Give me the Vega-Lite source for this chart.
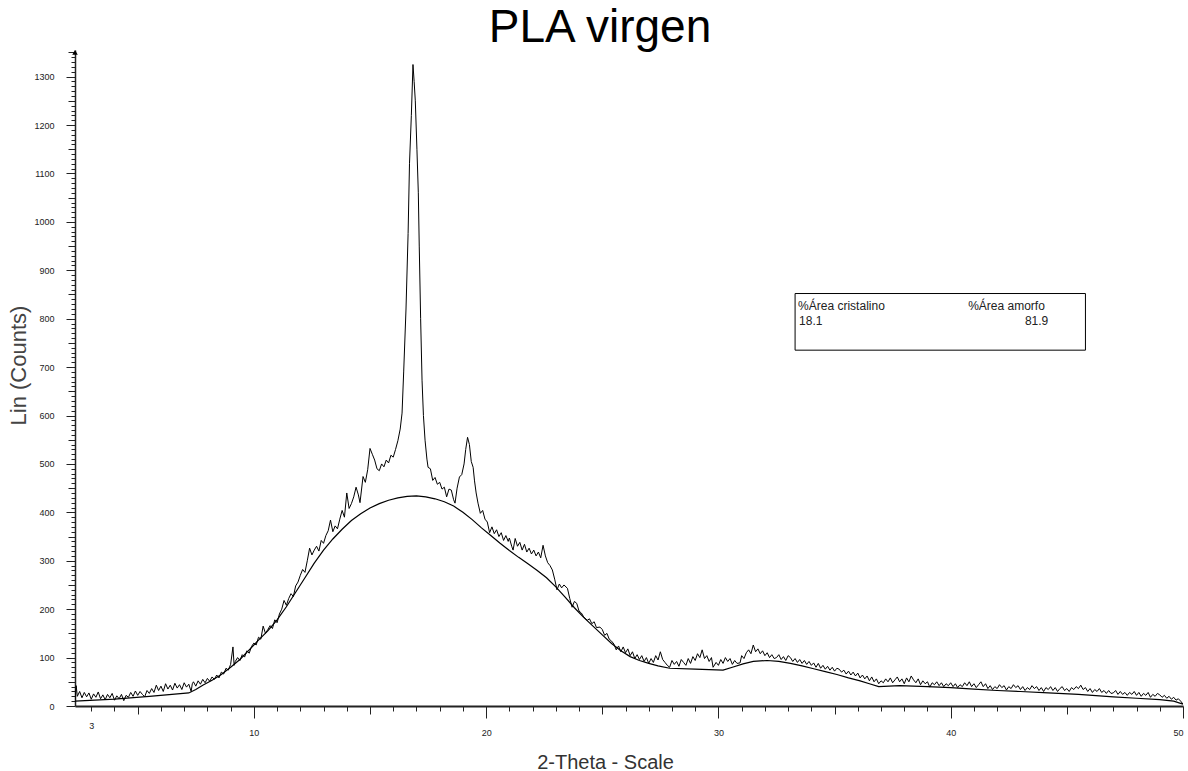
{
"$schema": "https://vega.github.io/schema/vega-lite/v6.json",
"width": 1108,
"height": 656,
"autosize": {"type": "none"},
"padding": {"left": 75, "top": 50, "right": 5, "bottom": 65},
"background": "white",
"title": {"text": "PLA virgen", "font": "Liberation Sans", "fontSize": 46, "fontWeight": "normal", "color": "#000", "anchor": "middle", "dx": -29, "offset": -4},
"config": {"view": {"stroke": null}},
"datasets": {
"scan": [
{"t":2.3,"c":12},{"t":2.35,"c":42},{"t":2.4,"c":20},{"t":2.5,"c":30},{"t":2.6,"c":17},{"t":2.7,"c":28},{"t":2.8,"c":19},{"t":2.9,"c":27},{"t":3.0,"c":14},{"t":3.1,"c":25},{"t":3.2,"c":18},{"t":3.3,"c":29},{"t":3.4,"c":15},{"t":3.5,"c":23},{"t":3.6,"c":13},{"t":3.7,"c":24},{"t":3.8,"c":17},{"t":3.9,"c":26},{"t":4.0,"c":12},{"t":4.1,"c":21},{"t":4.2,"c":15},{"t":4.3,"c":24},{"t":4.4,"c":11},{"t":4.5,"c":22},{"t":4.6,"c":18},{"t":4.7,"c":28},{"t":4.8,"c":20},{"t":4.9,"c":31},{"t":5.0,"c":22},{"t":5.1,"c":30},{"t":5.2,"c":24},{"t":5.3,"c":19},{"t":5.4,"c":32},{"t":5.5,"c":26},{"t":5.6,"c":36},{"t":5.7,"c":28},{"t":5.8,"c":43},{"t":5.9,"c":32},{"t":6.0,"c":41},{"t":6.1,"c":30},{"t":6.2,"c":46},{"t":6.3,"c":35},{"t":6.4,"c":43},{"t":6.5,"c":33},{"t":6.6,"c":47},{"t":6.7,"c":37},{"t":6.8,"c":44},{"t":6.9,"c":34},{"t":7.0,"c":48},{"t":7.1,"c":39},{"t":7.2,"c":45},{"t":7.3,"c":30},{"t":7.35,"c":46},{"t":7.4,"c":50},{"t":7.5,"c":41},{"t":7.6,"c":52},{"t":7.7,"c":45},{"t":7.8,"c":55},{"t":7.9,"c":48},{"t":8.0,"c":57},{"t":8.1,"c":51},{"t":8.2,"c":60},{"t":8.3,"c":55},{"t":8.4,"c":64},{"t":8.5,"c":58},{"t":8.6,"c":70},{"t":8.7,"c":66},{"t":8.8,"c":78},{"t":8.9,"c":74},{"t":9.0,"c":86},{"t":9.1,"c":122},{"t":9.15,"c":84},{"t":9.2,"c":92},{"t":9.3,"c":100},{"t":9.4,"c":94},{"t":9.5,"c":106},{"t":9.6,"c":101},{"t":9.7,"c":114},{"t":9.8,"c":109},{"t":9.9,"c":123},{"t":10.0,"c":130},{"t":10.1,"c":126},{"t":10.2,"c":142},{"t":10.3,"c":138},{"t":10.4,"c":165},{"t":10.5,"c":150},{"t":10.6,"c":158},{"t":10.7,"c":166},{"t":10.8,"c":160},{"t":10.9,"c":178},{"t":11.0,"c":172},{"t":11.1,"c":190},{"t":11.2,"c":200},{"t":11.3,"c":218},{"t":11.4,"c":208},{"t":11.5,"c":222},{"t":11.6,"c":232},{"t":11.7,"c":226},{"t":11.8,"c":248},{"t":11.9,"c":256},{"t":12.0,"c":270},{"t":12.1,"c":282},{"t":12.2,"c":276},{"t":12.3,"c":300},{"t":12.4,"c":326},{"t":12.5,"c":312},{"t":12.6,"c":322},{"t":12.7,"c":330},{"t":12.8,"c":320},{"t":12.9,"c":342},{"t":13.0,"c":336},{"t":13.1,"c":352},{"t":13.2,"c":362},{"t":13.3,"c":384},{"t":13.4,"c":360},{"t":13.5,"c":372},{"t":13.6,"c":366},{"t":13.7,"c":386},{"t":13.8,"c":404},{"t":13.9,"c":390},{"t":14.0,"c":440},{"t":14.1,"c":408},{"t":14.2,"c":418},{"t":14.3,"c":432},{"t":14.4,"c":452},{"t":14.5,"c":436},{"t":14.57,"c":420},{"t":14.7,"c":474},{"t":14.8,"c":462},{"t":14.9,"c":488},{"t":15.0,"c":532},{"t":15.1,"c":520},{"t":15.2,"c":508},{"t":15.3,"c":490},{"t":15.4,"c":486},{"t":15.5,"c":500},{"t":15.6,"c":494},{"t":15.7,"c":508},{"t":15.8,"c":502},{"t":15.9,"c":518},{"t":16.0,"c":514},{"t":16.1,"c":530},{"t":16.2,"c":548},{"t":16.3,"c":572},{"t":16.38,"c":605},{"t":16.45,"c":690},{"t":16.55,"c":820},{"t":16.64,"c":976},{"t":16.7,"c":1120},{"t":16.78,"c":1220},{"t":16.85,"c":1325},{"t":16.9,"c":1290},{"t":16.95,"c":1250},{"t":17.02,"c":1150},{"t":17.08,"c":1060},{"t":17.12,"c":950},{"t":17.18,"c":800},{"t":17.24,"c":673},{"t":17.3,"c":600},{"t":17.37,"c":549},{"t":17.45,"c":510},{"t":17.5,"c":493},{"t":17.6,"c":490},{"t":17.7,"c":466},{"t":17.8,"c":472},{"t":17.9,"c":458},{"t":18.0,"c":462},{"t":18.1,"c":448},{"t":18.2,"c":452},{"t":18.3,"c":432},{"t":18.4,"c":448},{"t":18.5,"c":446},{"t":18.6,"c":426},{"t":18.66,"c":419},{"t":18.75,"c":450},{"t":18.85,"c":473},{"t":18.95,"c":478},{"t":19.05,"c":500},{"t":19.12,"c":530},{"t":19.2,"c":555},{"t":19.28,"c":540},{"t":19.36,"c":505},{"t":19.44,"c":493},{"t":19.5,"c":465},{"t":19.57,"c":440},{"t":19.65,"c":419},{"t":19.75,"c":398},{"t":19.85,"c":404},{"t":19.95,"c":386},{"t":20.05,"c":380},{"t":20.15,"c":358},{"t":20.25,"c":370},{"t":20.35,"c":356},{"t":20.45,"c":364},{"t":20.55,"c":350},{"t":20.65,"c":358},{"t":20.75,"c":342},{"t":20.85,"c":352},{"t":20.95,"c":340},{"t":21.0,"c":347},{"t":21.1,"c":330},{"t":21.16,"c":322},{"t":21.25,"c":346},{"t":21.35,"c":330},{"t":21.45,"c":338},{"t":21.55,"c":322},{"t":21.65,"c":334},{"t":21.75,"c":318},{"t":21.85,"c":326},{"t":21.95,"c":314},{"t":22.05,"c":322},{"t":22.15,"c":310},{"t":22.25,"c":318},{"t":22.35,"c":306},{"t":22.45,"c":332},{"t":22.55,"c":310},{"t":22.65,"c":296},{"t":22.75,"c":290},{"t":22.85,"c":281},{"t":22.95,"c":262},{"t":23.05,"c":240},{"t":23.15,"c":252},{"t":23.25,"c":244},{"t":23.35,"c":250},{"t":23.5,"c":243},{"t":23.6,"c":222},{"t":23.7,"c":204},{"t":23.8,"c":216},{"t":23.9,"c":212},{"t":24.0,"c":196},{"t":24.1,"c":192},{"t":24.2,"c":184},{"t":24.35,"c":177},{"t":24.45,"c":180},{"t":24.55,"c":170},{"t":24.65,"c":174},{"t":24.75,"c":162},{"t":24.9,"c":163},{"t":25.0,"c":158},{"t":25.1,"c":146},{"t":25.2,"c":150},{"t":25.3,"c":138},{"t":25.4,"c":134},{"t":25.5,"c":128},{"t":25.6,"c":116},{"t":25.7,"c":124},{"t":25.8,"c":112},{"t":25.9,"c":122},{"t":26.0,"c":110},{"t":26.1,"c":118},{"t":26.2,"c":104},{"t":26.3,"c":112},{"t":26.4,"c":98},{"t":26.5,"c":106},{"t":26.6,"c":96},{"t":26.7,"c":104},{"t":26.8,"c":92},{"t":26.9,"c":100},{"t":27.0,"c":88},{"t":27.1,"c":98},{"t":27.2,"c":90},{"t":27.3,"c":104},{"t":27.4,"c":95},{"t":27.5,"c":112},{"t":27.6,"c":96},{"t":27.7,"c":90},{"t":27.8,"c":84},{"t":27.9,"c":80},{"t":28.0,"c":94},{"t":28.1,"c":86},{"t":28.2,"c":92},{"t":28.3,"c":82},{"t":28.4,"c":96},{"t":28.5,"c":90},{"t":28.6,"c":84},{"t":28.7,"c":98},{"t":28.8,"c":88},{"t":28.9,"c":102},{"t":29.0,"c":94},{"t":29.1,"c":108},{"t":29.2,"c":100},{"t":29.3,"c":116},{"t":29.4,"c":98},{"t":29.5,"c":104},{"t":29.6,"c":92},{"t":29.7,"c":100},{"t":29.77,"c":80},{"t":29.9,"c":90},{"t":30.0,"c":84},{"t":30.1,"c":96},{"t":30.2,"c":88},{"t":30.3,"c":100},{"t":30.4,"c":92},{"t":30.5,"c":98},{"t":30.6,"c":86},{"t":30.7,"c":94},{"t":30.8,"c":88},{"t":30.93,"c":89},{"t":31.0,"c":104},{"t":31.1,"c":98},{"t":31.2,"c":110},{"t":31.3,"c":116},{"t":31.4,"c":108},{"t":31.5,"c":126},{"t":31.6,"c":112},{"t":31.7,"c":118},{"t":31.8,"c":108},{"t":31.9,"c":114},{"t":32.0,"c":104},{"t":32.1,"c":110},{"t":32.2,"c":100},{"t":32.3,"c":106},{"t":32.4,"c":98},{"t":32.5,"c":100},{"t":32.6,"c":106},{"t":32.7,"c":96},{"t":32.8,"c":102},{"t":32.9,"c":94},{"t":33.0,"c":104},{"t":33.1,"c":100},{"t":33.2,"c":92},{"t":33.3,"c":98},{"t":33.4,"c":90},{"t":33.5,"c":96},{"t":33.6,"c":88},{"t":33.7,"c":94},{"t":33.8,"c":86},{"t":33.9,"c":92},{"t":34.0,"c":84},{"t":34.1,"c":89},{"t":34.2,"c":80},{"t":34.3,"c":88},{"t":34.4,"c":78},{"t":34.5,"c":84},{"t":34.6,"c":76},{"t":34.7,"c":82},{"t":34.8,"c":74},{"t":34.9,"c":80},{"t":35.0,"c":72},{"t":35.1,"c":78},{"t":35.2,"c":76},{"t":35.3,"c":70},{"t":35.4,"c":74},{"t":35.5,"c":66},{"t":35.6,"c":72},{"t":35.7,"c":64},{"t":35.8,"c":70},{"t":35.9,"c":62},{"t":36.0,"c":68},{"t":36.1,"c":58},{"t":36.2,"c":64},{"t":36.3,"c":56},{"t":36.4,"c":62},{"t":36.5,"c":52},{"t":36.6,"c":60},{"t":36.7,"c":50},{"t":36.8,"c":56},{"t":36.9,"c":46},{"t":37.0,"c":52},{"t":37.1,"c":48},{"t":37.2,"c":56},{"t":37.3,"c":50},{"t":37.4,"c":58},{"t":37.5,"c":48},{"t":37.6,"c":54},{"t":37.7,"c":60},{"t":37.8,"c":50},{"t":37.9,"c":56},{"t":38.0,"c":46},{"t":38.1,"c":58},{"t":38.2,"c":50},{"t":38.3,"c":62},{"t":38.4,"c":54},{"t":38.5,"c":48},{"t":38.6,"c":56},{"t":38.7,"c":44},{"t":38.8,"c":52},{"t":38.9,"c":46},{"t":39.0,"c":50},{"t":39.1,"c":39},{"t":39.2,"c":48},{"t":39.3,"c":44},{"t":39.4,"c":50},{"t":39.5,"c":42},{"t":39.6,"c":48},{"t":39.7,"c":40},{"t":39.8,"c":46},{"t":39.9,"c":42},{"t":40.0,"c":48},{"t":40.1,"c":40},{"t":40.2,"c":46},{"t":40.3,"c":38},{"t":40.4,"c":44},{"t":40.5,"c":40},{"t":40.6,"c":48},{"t":40.7,"c":42},{"t":40.8,"c":50},{"t":40.9,"c":40},{"t":41.0,"c":46},{"t":41.1,"c":38},{"t":41.2,"c":44},{"t":41.3,"c":50},{"t":41.4,"c":40},{"t":41.5,"c":46},{"t":41.6,"c":36},{"t":41.7,"c":42},{"t":41.8,"c":34},{"t":41.9,"c":40},{"t":42.0,"c":36},{"t":42.1,"c":44},{"t":42.2,"c":38},{"t":42.3,"c":42},{"t":42.4,"c":33},{"t":42.5,"c":40},{"t":42.6,"c":36},{"t":42.7,"c":44},{"t":42.8,"c":38},{"t":42.9,"c":42},{"t":43.0,"c":34},{"t":43.1,"c":40},{"t":43.2,"c":32},{"t":43.3,"c":38},{"t":43.4,"c":34},{"t":43.5,"c":42},{"t":43.6,"c":36},{"t":43.7,"c":40},{"t":43.8,"c":32},{"t":43.9,"c":38},{"t":44.0,"c":30},{"t":44.1,"c":38},{"t":44.2,"c":34},{"t":44.3,"c":40},{"t":44.4,"c":32},{"t":44.5,"c":38},{"t":44.6,"c":30},{"t":44.7,"c":36},{"t":44.8,"c":40},{"t":44.9,"c":32},{"t":45.0,"c":36},{"t":45.1,"c":30},{"t":45.2,"c":38},{"t":45.3,"c":34},{"t":45.4,"c":40},{"t":45.5,"c":36},{"t":45.6,"c":43},{"t":45.7,"c":34},{"t":45.8,"c":38},{"t":45.9,"c":30},{"t":46.0,"c":36},{"t":46.1,"c":28},{"t":46.2,"c":34},{"t":46.3,"c":30},{"t":46.4,"c":36},{"t":46.5,"c":28},{"t":46.6,"c":32},{"t":46.7,"c":26},{"t":46.8,"c":32},{"t":46.9,"c":26},{"t":47.0,"c":27},{"t":47.1,"c":32},{"t":47.2,"c":24},{"t":47.3,"c":30},{"t":47.4,"c":24},{"t":47.5,"c":28},{"t":47.6,"c":22},{"t":47.7,"c":28},{"t":47.8,"c":24},{"t":47.9,"c":30},{"t":48.0,"c":22},{"t":48.1,"c":28},{"t":48.2,"c":20},{"t":48.3,"c":26},{"t":48.4,"c":22},{"t":48.5,"c":28},{"t":48.6,"c":18},{"t":48.7,"c":24},{"t":48.8,"c":20},{"t":48.9,"c":26},{"t":49.0,"c":23},{"t":49.1,"c":18},{"t":49.2,"c":22},{"t":49.3,"c":16},{"t":49.4,"c":20},{"t":49.5,"c":14},{"t":49.6,"c":18},{"t":49.7,"c":12},{"t":49.8,"c":15},{"t":49.9,"c":10},{"t":50.0,"c":4}
],
"amorfo": [
{"t":2.3,"c":10},{"t":4.0,"c":14},{"t":5.5,"c":20},{"t":7.2,"c":27},{"t":7.5,"c":34},{"t":7.8,"c":43},{"t":8.2,"c":53},{"t":8.6,"c":65},{"t":9.0,"c":80},{"t":9.4,"c":96},{"t":9.8,"c":116},{"t":10.2,"c":136},{"t":10.6,"c":155},{"t":11.0,"c":178},{"t":11.4,"c":205},{"t":11.8,"c":235},{"t":12.2,"c":265},{"t":12.6,"c":295},{"t":13.0,"c":322},{"t":13.4,"c":345},{"t":13.8,"c":365},{"t":14.2,"c":383},{"t":14.6,"c":397},{"t":15.0,"c":409},{"t":15.4,"c":418},{"t":15.8,"c":425},{"t":16.2,"c":430},{"t":16.6,"c":433},{"t":17.0,"c":434},{"t":17.4,"c":432},{"t":17.8,"c":428},{"t":18.2,"c":422},{"t":18.6,"c":413},{"t":19.0,"c":400},{"t":19.4,"c":385},{"t":19.8,"c":368},{"t":20.2,"c":352},{"t":20.6,"c":336},{"t":21.0,"c":321},{"t":21.4,"c":307},{"t":21.8,"c":294},{"t":22.2,"c":280},{"t":22.6,"c":265},{"t":23.0,"c":246},{"t":23.4,"c":225},{"t":23.8,"c":203},{"t":24.2,"c":183},{"t":24.6,"c":165},{"t":25.0,"c":147},{"t":25.4,"c":129},{"t":25.8,"c":114},{"t":26.2,"c":102},{"t":26.6,"c":94},{"t":27.0,"c":88},{"t":27.4,"c":83},{"t":27.9,"c":78},{"t":29.0,"c":76},{"t":30.2,"c":74},{"t":30.6,"c":80},{"t":31.06,"c":87},{"t":31.5,"c":92},{"t":32.1,"c":94},{"t":32.6,"c":92},{"t":33.1,"c":88},{"t":33.6,"c":83},{"t":34.1,"c":77},{"t":34.6,"c":71},{"t":35.1,"c":65},{"t":35.6,"c":58},{"t":36.1,"c":52},{"t":36.5,"c":46},{"t":36.9,"c":40},{"t":37.8,"c":42},{"t":39.0,"c":40},{"t":40.0,"c":38},{"t":41.0,"c":35},{"t":42.0,"c":32},{"t":43.0,"c":30},{"t":44.2,"c":27},{"t":45.5,"c":24},{"t":47.0,"c":19},{"t":48.0,"c":16},{"t":49.0,"c":13},{"t":49.6,"c":10},{"t":50.0,"c":4}
]
},
"layer": [
{
"data": {"name": "scan"},
"mark": {"type": "line", "color": "#000", "strokeWidth": 1, "clip": true},
"encoding": {
"x": {"field": "t", "type": "quantitative",
"scale": {"domain": [2.3, 50], "nice": false, "zero": false},
"axis": {"title": "2-Theta - Scale", "tickCount": 48, "labelOverlap": false, "grid": false,
"labelExpr": "indexof([3,10,20,30,40,50], datum.value) >= 0 ? datum.label : ''",
"tickSize": {"condition": [{"test": "datum.value % 10 === 0", "value": 12}, {"test": "datum.value % 5 === 0", "value": 8}], "value": 5},
"tickColor": "#222", "domainColor": "#222", "domainWidth": 2,
"labelFont": "Liberation Sans", "labelFontSize": 9, "labelColor": "#222", "labelPadding": 10,
"titleFont": "Liberation Sans", "titleFontSize": 20, "titleFontWeight": "normal", "titleColor": "#333",
"titleX": 530, "titleY": 56, "titleBaseline": "middle", "titleAlign": "center"}},
"y": {"field": "c", "type": "quantitative",
"scale": {"domain": [0, 1355], "nice": false},
"axis": {"title": "Lin (Counts)", "tickCount": 135, "labelOverlap": false, "grid": false, "format": "d",
"labelExpr": "datum.value % 100 === 0 ? datum.label : ''",
"tickSize": {"condition": [{"test": "datum.value % 100 === 0", "value": 9}, {"test": "datum.value % 50 === 0", "value": 7}], "value": 4},
"tickColor": "#222", "domainColor": "#222", "domainWidth": 1.5,
"labelFont": "Liberation Sans", "labelFontSize": 9, "labelColor": "#222", "labelPadding": 12,
"titleFont": "Liberation Sans", "titleFontSize": 22, "titleFontWeight": "normal", "titleColor": "#444",
"titleX": -57, "titleY": 315, "titleBaseline": "middle", "titleAlign": "center", "titleAngle": 270}}
}
},
{
"data": {"name": "amorfo"},
"mark": {"type": "line", "color": "#000", "strokeWidth": 1.2, "clip": true},
"encoding": {
"x": {"field": "t", "type": "quantitative"},
"y": {"field": "c", "type": "quantitative"}
}
},
{
"data": {"values": [{}]},
"mark": {"type": "rect", "fill": "white", "stroke": "#000", "strokeWidth": 1},
"encoding": {
"x": {"datum": 33.3}, "x2": {"datum": 45.8},
"y": {"datum": 852}, "y2": {"datum": 735}
}
},
{
"data": {"values": [{}]},
"mark": {"type": "text", "font": "Liberation Sans", "fontSize": 12, "color": "#222", "align": "left", "baseline": "alphabetic"},
"encoding": {"x": {"datum": 33.43}, "y": {"datum": 818}, "text": {"value": "%Área cristalino"}}
},
{
"data": {"values": [{}]},
"mark": {"type": "text", "font": "Liberation Sans", "fontSize": 12, "color": "#222", "align": "left", "baseline": "alphabetic"},
"encoding": {"x": {"datum": 40.75}, "y": {"datum": 818}, "text": {"value": "%Área amorfo"}}
},
{
"data": {"values": [{}]},
"mark": {"type": "text", "font": "Liberation Sans", "fontSize": 12, "color": "#222", "align": "left", "baseline": "alphabetic"},
"encoding": {"x": {"datum": 33.47}, "y": {"datum": 786}, "text": {"value": "18.1"}}
},
{
"data": {"values": [{}]},
"mark": {"type": "text", "font": "Liberation Sans", "fontSize": 12, "color": "#222", "align": "right", "baseline": "alphabetic"},
"encoding": {"x": {"datum": 44.2}, "y": {"datum": 786}, "text": {"value": "81.9"}}
},
{
"data": {"values": [{}]},
"mark": {"type": "point", "shape": "triangle-up", "filled": true, "color": "#000", "size": 30, "opacity": 1},
"encoding": {"x": {"datum": 2.3}, "y": {"datum": 1350}}
}
]
}
